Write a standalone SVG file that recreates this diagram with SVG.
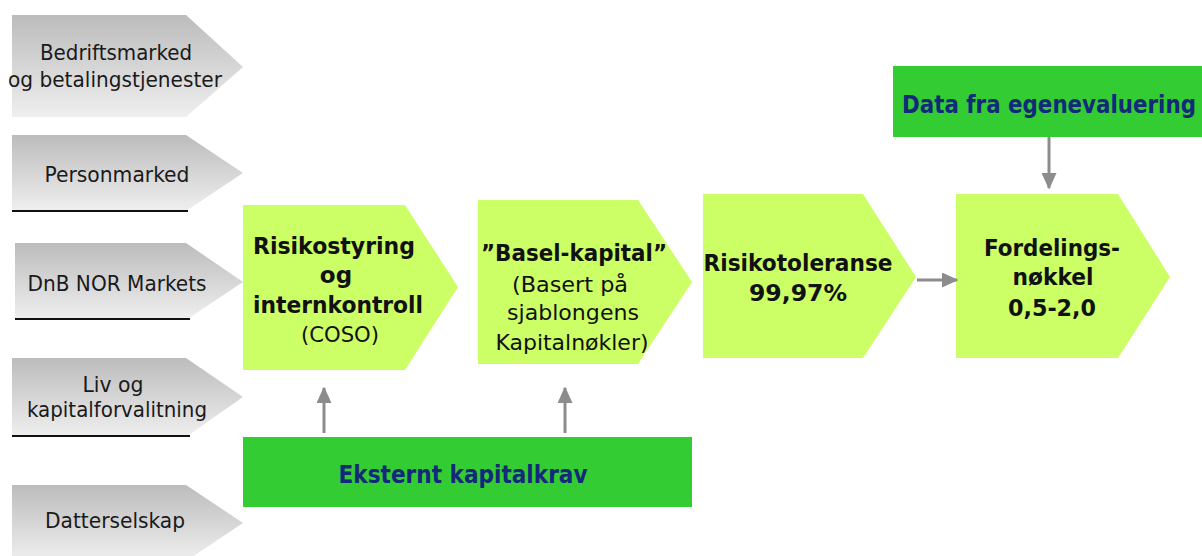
<svg xmlns="http://www.w3.org/2000/svg" width="1202" height="556" viewBox="0 0 1202 556">
  <defs>
    <linearGradient id="greyFill" x1="0" y1="0" x2="0" y2="1">
      <stop offset="0" stop-color="#bcbcbc"/>
      <stop offset="1" stop-color="#efefef"/>
    </linearGradient>
    <marker id="arrowHead" viewBox="0 0 11 10" refX="10" refY="5" markerWidth="5.5" markerHeight="5" orient="auto" markerUnits="strokeWidth">
      <path d="M0,0 L11,5 L0,10 Z" fill="#8c8c8c"/>
    </marker>
  </defs>
  <style>
    .unit { fill: url(#greyFill); }
    .unit-text { font-family: "DejaVu Sans Condensed", "DejaVu Sans", sans-serif; font-size: 21px; fill: #1a1a1a; text-anchor: middle; }
    .rule { stroke: #111; stroke-width: 2; }
    .step { fill: #ccff66; }
    .step-bold { font-family: "DejaVu Sans", sans-serif; font-weight: bold; font-size: 23px; fill: #111; text-anchor: middle; }
    .step-text { font-family: "DejaVu Sans Condensed", "DejaVu Sans", sans-serif; font-size: 22px; fill: #111; text-anchor: middle; }
    .source { fill: #33cc33; }
    .source-text { font-family: "DejaVu Sans", sans-serif; font-weight: bold; font-size: 24px; fill: #13297a; text-anchor: middle; }
    .link { stroke: #8c8c8c; stroke-width: 3; fill: none; marker-end: url(#arrowHead); }
  </style>
  <rect width="1202" height="556" fill="#ffffff"/>

  <!-- business units -->
  <g id="unit-bedriftsmarked">
    <path class="unit" d="M12,15 H186 L243,67 L186,117 H12 Z"/>
    <text class="unit-text" x="116" y="60" textLength="152" lengthAdjust="spacingAndGlyphs">Bedriftsmarked</text>
    <text class="unit-text" x="115" y="87" textLength="214" lengthAdjust="spacingAndGlyphs">og betalingstjenester</text>
  </g>
  <g id="unit-personmarked">
    <path class="unit" d="M12,135 H186 L243,173 L186,211 H12 Z"/>
    <line class="rule" x1="12" y1="211" x2="188" y2="211"/>
    <text class="unit-text" x="117" y="182" textLength="145" lengthAdjust="spacingAndGlyphs">Personmarked</text>
  </g>
  <g id="unit-markets">
    <path class="unit" d="M15,243 H186 L243,282 L186,320 H15 Z"/>
    <line class="rule" x1="15" y1="319" x2="190" y2="319"/>
    <text class="unit-text" x="117" y="291" textLength="179" lengthAdjust="spacingAndGlyphs">DnB NOR Markets</text>
  </g>
  <g id="unit-liv">
    <path class="unit" d="M12,358 H186 L243,397 L186,437 H12 Z"/>
    <line class="rule" x1="12" y1="436" x2="190" y2="436"/>
    <text class="unit-text" x="113" y="392" textLength="61" lengthAdjust="spacingAndGlyphs">Liv og</text>
    <text class="unit-text" x="117" y="417" textLength="180" lengthAdjust="spacingAndGlyphs">kapitalforvalitning</text>
  </g>
  <g id="unit-datterselskap">
    <path class="unit" d="M12,485 H186 L243,523 L186,561 H12 Z"/>
    <text class="unit-text" x="115" y="528" textLength="140" lengthAdjust="spacingAndGlyphs">Datterselskap</text>
  </g>

  <!-- process steps -->
  <g id="step-risikostyring">
    <path class="step" d="M243,205 H405 L458,287 L405,370 H243 Z"/>
    <text class="step-bold" x="334" y="254" textLength="162" lengthAdjust="spacingAndGlyphs">Risikostyring</text>
    <text class="step-bold" x="336" y="283">og</text>
    <text class="step-bold" x="338" y="313" textLength="170" lengthAdjust="spacingAndGlyphs">internkontroll</text>
    <text class="step-text" x="340" y="342" textLength="78" lengthAdjust="spacingAndGlyphs">(COSO)</text>
  </g>
  <g id="step-basel">
    <path class="step" d="M478,200 H638 L692,282 L638,364 H478 Z"/>
    <text class="step-bold" x="574" y="261" textLength="186" lengthAdjust="spacingAndGlyphs">”Basel-kapital”</text>
    <text class="step-text" x="570" y="292" textLength="116" lengthAdjust="spacingAndGlyphs">(Basert på</text>
    <text class="step-text" x="573" y="320" textLength="132" lengthAdjust="spacingAndGlyphs">sjablongens</text>
    <text class="step-text" x="572" y="350" textLength="153" lengthAdjust="spacingAndGlyphs">Kapitalnøkler)</text>
  </g>
  <g id="step-risikotoleranse">
    <path class="step" d="M703,194 H863 L916,277 L863,358 H703 Z"/>
    <text class="step-bold" x="798" y="271" textLength="189" lengthAdjust="spacingAndGlyphs">Risikotoleranse</text>
    <text class="step-bold" x="798" y="301" textLength="98" lengthAdjust="spacingAndGlyphs">99,97%</text>
  </g>
  <g id="step-fordeling">
    <path class="step" d="M956,194 H1118 L1170,277 L1118,358 H956 Z"/>
    <text class="step-bold" x="1052" y="256" textLength="136" lengthAdjust="spacingAndGlyphs">Fordelings-</text>
    <text class="step-bold" x="1053" y="285" textLength="81" lengthAdjust="spacingAndGlyphs">nøkkel</text>
    <text class="step-bold" x="1052" y="316" textLength="88" lengthAdjust="spacingAndGlyphs">0,5-2,0</text>
  </g>

  <!-- inputs -->
  <g id="input-egenevaluering">
    <rect class="source" x="893" y="66" width="320" height="71"/>
    <text class="source-text" x="1049" y="113" textLength="294" lengthAdjust="spacingAndGlyphs">Data fra egenevaluering</text>
  </g>
  <g id="input-kapitalkrav">
    <rect class="source" x="243" y="437" width="449" height="70"/>
    <text class="source-text" x="463" y="483" textLength="249" lengthAdjust="spacingAndGlyphs">Eksternt kapitalkrav</text>
  </g>

  <!-- connectors -->
  <g id="connectors">
    <line class="link" x1="324" y1="433" x2="324" y2="388"/>
    <line class="link" x1="565" y1="433" x2="565" y2="388"/>
    <line class="link" x1="1049" y1="137" x2="1049" y2="188"/>
    <line class="link" x1="917" y1="280" x2="957" y2="280"/>
  </g>
</svg>
